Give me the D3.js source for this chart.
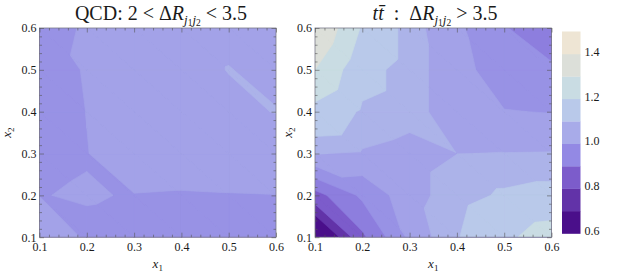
<!DOCTYPE html>
<html><head><meta charset="utf-8">
<script src="https://cdn.jsdelivr.net/npm/d3@7"></script>
<style>
body{margin:0;background:#fff}
svg{display:block}
text{font-family:"Liberation Serif","DejaVu Serif",serif;fill:#1a1a1a}
</style>
</head><body>
<svg id="chart" width="624" height="276"></svg>
<script>
// ---------- data ----------
const gridX1 = [0.1, 0.2, 0.3, 0.4, 0.5, 0.6];
const gridX2 = [0.1, 0.2, 0.3, 0.4, 0.5, 0.6];
// rows: x2 = 0.1 ... 0.6 ; columns: x1 = 0.1 ... 0.6
const qcdValues = [
  [1.035, 0.994, 0.9925, 0.985, 0.985, 0.985],
  [0.9993, 1.002, 0.9984, 0.996, 0.998, 0.9993],
  [0.9961, 0.9985, 1.03, 1.03, 1.03, 1.02],
  [0.970, 1.001, 1.03, 1.035, 1.04, 1.0515],
  [0.969, 1.005, 1.03, 1.035, 1.0512, 1.04],
  [0.9907, 1.0025, 1.03, 1.035, 1.04, 1.035]
];
const ttValues = [
  [0.50, 0.89, 1.01, 1.095, 1.18, 1.25],
  [0.88, 0.96, 1.03, 1.075, 1.11, 1.124],
  [1.052, 1.045, 1.03, 1.0495, 1.051, 1.052],
  [1.17, 1.09, 1.07, 1.02, 1.002, 0.998],
  [1.30, 1.13, 1.07, 1.02, 0.97, 0.955],
  [1.403, 1.19, 1.07, 1.01, 0.952, 0.93]
];
const contourLevels = [0.7, 0.8, 0.9, 0.95, 1.0, 1.05, 1.1, 1.2, 1.3, 1.4];
const valueRange = [0.6, 1.5];
const legendLevels = [0.6, 0.7, 0.8, 0.9, 1.0, 1.1, 1.2, 1.3, 1.4, 1.5];
const legendColors = ["#4a0f8a", "#6233a8", "#7c5ccb", "#9389e4", "#a8abe9",
                      "#b9c9ea", "#c9dce3", "#dcdfd9", "#eee5d4"];
const legendTicks = [0.6, 0.8, 1.0, 1.2, 1.4];
const axisTicks = [0.1, 0.2, 0.3, 0.4, 0.5, 0.6];

const FONT = '"Liberation Serif", "DejaVu Serif", serif';

// ---------- helpers ----------
const svg = d3.select("#chart");
const mids = legendColors.map((c, i) => (legendLevels[i] + legendLevels[i + 1]) / 2);
const colorScale = d3.scaleLinear().domain(mids).range(legendColors)
  .interpolate(d3.interpolateRgb).clamp(true);
const bandEdges = [valueRange[0], ...contourLevels, valueRange[1]];
const bandColor = k => colorScale((bandEdges[k] + bandEdges[k + 1]) / 2);

function clipPoly(pts, t) {
  const out = [];
  for (let i = 0; i < pts.length; i++) {
    const P = pts[i], Q = pts[(i + 1) % pts.length];
    const pin = P.v >= t, qin = Q.v >= t;
    if (pin) out.push(P);
    if (pin !== qin) {
      const f = (t - P.v) / (Q.v - P.v);
      out.push({x: P.x + f * (Q.x - P.x), y: P.y + f * (Q.y - P.y), v: t});
    }
  }
  return out;
}

const minorTicks = d3.range(0, 26).map(i => +(0.1 + i * 0.02).toFixed(2))
  .filter(v => Math.abs(v * 10 - Math.round(v * 10)) > 1e-6);

function txt(sel) { return sel.attr("font-family", FONT).attr("fill", "#1a1a1a"); }

function panel(id, values, xr, yr, ylabOffset) {
  const x = d3.scaleLinear().domain([0.1, 0.6]).range(xr);
  const y = d3.scaleLinear().domain([0.1, 0.6]).range(yr);
  const g = svg.append("g");
  g.append("clipPath").attr("id", "clip-" + id).append("rect")
    .attr("x", xr[0]).attr("y", yr[1]).attr("width", xr[1] - xr[0]).attr("height", yr[0] - yr[1]);
  const fillG = g.append("g").attr("clip-path", `url(#clip-${id})`);
  const tris = [];
  for (let j = 0; j < gridX2.length - 1; j++) {
    for (let i = 0; i < gridX1.length - 1; i++) {
      const P = (a, b) => ({x: gridX1[a], y: gridX2[b], v: values[b][a]});
      const BL = P(i, j), BR = P(i + 1, j), TL = P(i, j + 1), TR = P(i + 1, j + 1);
      tris.push([BL, BR, TL], [TL, BR, TR]);
    }
  }
  const line = d3.line().x(p => x(p.x)).y(p => y(p.y));
  fillG.append("rect").attr("x", xr[0]).attr("y", yr[1])
    .attr("width", xr[1] - xr[0]).attr("height", yr[0] - yr[1]).attr("fill", bandColor(0));
  contourLevels.forEach((lev, k) => {
    let d = "";
    tris.forEach(t => {
      const poly = clipPoly(t, lev);
      if (poly.length >= 3) d += line(poly) + "Z";
    });
    if (d) fillG.append("path").attr("d", d).attr("fill", bandColor(k + 1))
      .attr("stroke", bandColor(k + 1)).attr("stroke-width", 0.6).attr("stroke-linejoin", "round");
  });
  g.append("rect").attr("x", xr[0]).attr("y", yr[1]).attr("width", xr[1] - xr[0])
    .attr("height", yr[0] - yr[1]).attr("fill", "none").attr("stroke", "#7a7a8a").attr("stroke-width", 0.8);
  const fmt = d3.format(".1f");
  const mk = (axis, tx, ty) => {
    const a = g.append("g").attr("transform", `translate(${tx},${ty})`).call(axis);
    a.select(".domain").remove();
    a.selectAll("line").attr("stroke", "#555").attr("stroke-width", 0.6);
    txt(a.selectAll("text")).attr("font-size", 12);
    return a;
  };
  mk(d3.axisBottom(x).tickValues(axisTicks).tickSize(-4.5).tickPadding(5).tickFormat(fmt), 0, yr[0]);
  mk(d3.axisBottom(x).tickValues(minorTicks).tickSize(-2.5).tickFormat(""), 0, yr[0]);
  mk(d3.axisTop(x).tickValues(axisTicks).tickSize(-4.5).tickFormat(""), 0, yr[1]);
  mk(d3.axisTop(x).tickValues(minorTicks).tickSize(-2.5).tickFormat(""), 0, yr[1]);
  mk(d3.axisLeft(y).tickValues(axisTicks).tickSize(-4.5).tickPadding(3).tickFormat(fmt), xr[0], 0);
  mk(d3.axisLeft(y).tickValues(minorTicks).tickSize(-2.5).tickFormat(""), xr[0], 0);
  mk(d3.axisRight(y).tickValues(axisTicks).tickSize(-4.5).tickFormat(""), xr[1], 0);
  mk(d3.axisRight(y).tickValues(minorTicks).tickSize(-2.5).tickFormat(""), xr[1], 0);
  const cx = (xr[0] + xr[1]) / 2;
  const xl = txt(g.append("text")).attr("x", cx).attr("y", 268).attr("text-anchor", "middle").attr("font-size", 13);
  xl.append("tspan").attr("font-style", "italic").text("x");
  xl.append("tspan").attr("font-size", 9).attr("dy", 3).text("1");
  const yl = txt(g.append("text")).attr("transform", `translate(${xr[0] - ylabOffset},${(yr[0] + yr[1]) / 2}) rotate(-90)`)
    .attr("text-anchor", "middle").attr("font-size", 13);
  yl.append("tspan").attr("font-style", "italic").text("x");
  yl.append("tspan").attr("font-size", 9).attr("dy", 3).text("2");
  return {g, cx};
}

const p1 = panel("qcd", qcdValues, [39.5, 276], [237.2, 28], 29);
const p2 = panel("tt", ttValues, [315, 551.5], [237.2, 28], 23);

function subscriptR(t) {
  t.append("tspan").text("Δ");
  t.append("tspan").attr("font-style", "italic").text("R");
  t.append("tspan").attr("font-style", "italic").attr("font-size", 13).attr("dy", 4).text("j");
  t.append("tspan").attr("font-size", 9.5).attr("dy", 2).text("1");
  t.append("tspan").attr("font-style", "italic").attr("font-size", 13).attr("dy", -2).text("j");
  t.append("tspan").attr("font-size", 9.5).attr("dy", 2).text("2");
}
const t1 = txt(svg.append("text")).attr("x", 161).attr("y", 19.5).attr("text-anchor", "middle").attr("font-size", 20);
t1.append("tspan").text("QCD: 2 < ");
subscriptR(t1);
t1.append("tspan").attr("dy", -6).text(" < 3.5");
const t2 = txt(svg.append("text")).attr("x", 435).attr("y", 19.5).attr("text-anchor", "middle").attr("font-size", 20);
t2.append("tspan").attr("font-style", "italic").text("t");
t2.append("tspan").attr("font-style", "italic").text("t\u0304");
t2.append("tspan").text("\u2002:\u2002");
subscriptR(t2);
t2.append("tspan").attr("dy", -6).text(" > 3.5");

const cb = d3.scaleLinear().domain(valueRange).range([233.5, 31.5]);
const cbG = svg.append("g");
cbG.selectAll("rect").data(legendColors).join("rect")
  .attr("x", 562).attr("width", 18.5)
  .attr("y", (c, i) => cb(legendLevels[i + 1]))
  .attr("height", (c, i) => cb(legendLevels[i]) - cb(legendLevels[i + 1]) + 0.3)
  .attr("fill", c => c);
const cbAxis = cbG.append("g").attr("transform", "translate(580.5,0)")
  .call(d3.axisRight(cb).tickValues(legendTicks).tickSize(0).tickPadding(4).tickFormat(d3.format(".1f")));
cbAxis.select(".domain").remove();
txt(cbAxis.selectAll("text")).attr("font-size", 12).attr("dy", "0.1em");
</script>
</body></html>
